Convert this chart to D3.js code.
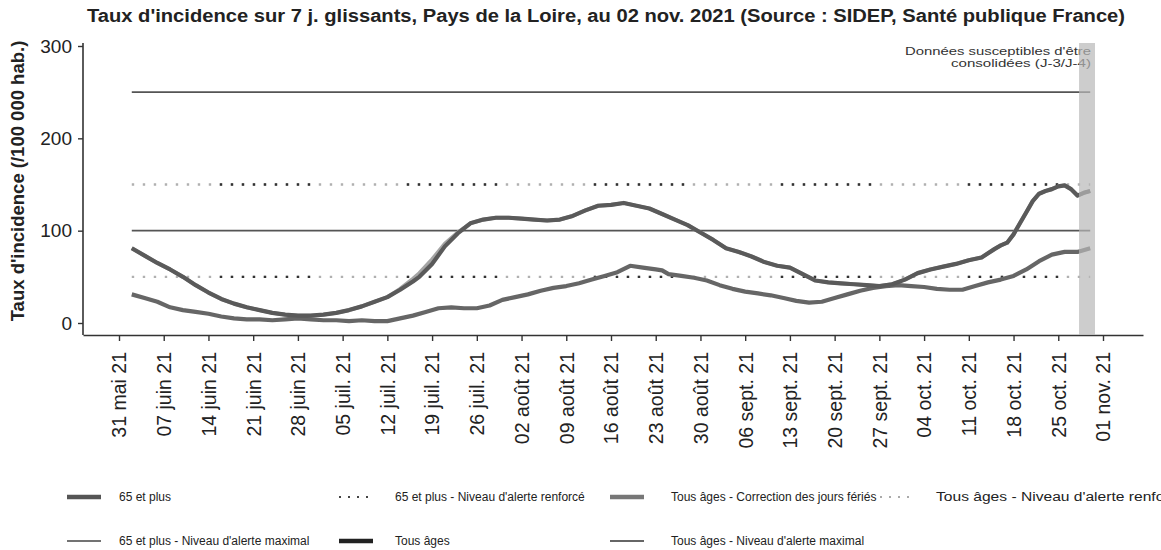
<!DOCTYPE html>
<html>
<head>
<meta charset="utf-8">
<script src="https://cdnjs.cloudflare.com/ajax/libs/d3/7.8.5/d3.min.js"></script>
<style>
body { margin: 0; background: #fff; }
svg { font-family: "Liberation Sans", Arial, sans-serif; }
</style>
</head>
<body>
<script>
// Tous âges (taux /100 000 hab.)
var datesTous = ["2021-06-02","2021-06-04","2021-06-06","2021-06-08","2021-06-10","2021-06-12","2021-06-14","2021-06-16","2021-06-18","2021-06-20",
  "2021-06-22","2021-06-24","2021-06-26","2021-06-28","2021-06-30","2021-07-02","2021-07-04","2021-07-06","2021-07-08","2021-07-10",
  "2021-07-12","2021-07-14","2021-07-16","2021-07-17","2021-07-19","2021-07-21","2021-07-23","2021-07-25","2021-07-27","2021-07-29",
  "2021-07-31","2021-08-02","2021-08-04","2021-08-06","2021-08-08","2021-08-10","2021-08-12","2021-08-14","2021-08-16","2021-08-18",
  "2021-08-20","2021-08-22","2021-08-24","2021-08-26","2021-08-28","2021-08-30","2021-09-01","2021-09-03","2021-09-05","2021-09-07",
  "2021-09-09","2021-09-11","2021-09-13","2021-09-15","2021-09-17","2021-09-19","2021-09-21","2021-09-23","2021-09-25","2021-09-27",
  "2021-09-29","2021-10-01","2021-10-03","2021-10-05","2021-10-07","2021-10-09","2021-10-11","2021-10-13","2021-10-15","2021-10-16",
  "2021-10-17","2021-10-18","2021-10-19","2021-10-20","2021-10-21","2021-10-22","2021-10-23","2021-10-24","2021-10-25","2021-10-26",
  "2021-10-27","2021-10-28","2021-10-29","2021-10-30"];
var tousAges = [81,73,65,58,50,41,33,26,21,17,
  14,11,9,8,8,9,11,14,18,23,
  28,36,45,50,64,83,97,108,112,114,
  114,113,112,111,112,116,122,127,128,130,
  127,124,118,112,106,98,90,81,77,72,
  66,62,60,53,46,44,43,42,41,40,
  42,47,54,58,61,64,68,71,80,84,
  87,96,108,120,132,140,143,145,148,149,
  145,138,141,143];
// Tous âges - correction des jours fériés (mêmes dates)
var correction = [81,73,65,58,50,41,33,26,21,17,
  14,11,9,8,8,9,11,14,18,23,
  28,37,48,54,69,86,98,108,112,114,
  114,113,112,111,112,116,122,127,128,130,
  127,124,118,112,106,98,90,81,77,72,
  66,62,60,53,46,44,43,42,41,40,
  42,47,54,58,61,64,68,71,80,84,
  87,96,108,120,132,140,143,145,148,149,
  145,138,141,143];
// 65 et plus
var dates65 = ["2021-06-02","2021-06-04","2021-06-06","2021-06-08","2021-06-10","2021-06-12","2021-06-14","2021-06-16","2021-06-18","2021-06-20",
  "2021-06-22","2021-06-24","2021-06-26","2021-06-28","2021-06-30","2021-07-02","2021-07-04","2021-07-06","2021-07-08","2021-07-10",
  "2021-07-12","2021-07-14","2021-07-16","2021-07-18","2021-07-20","2021-07-22","2021-07-24","2021-07-26","2021-07-28","2021-07-30",
  "2021-08-01","2021-08-03","2021-08-05","2021-08-07","2021-08-09","2021-08-11","2021-08-13","2021-08-15","2021-08-17","2021-08-19",
  "2021-08-21","2021-08-23","2021-08-24","2021-08-25","2021-08-27","2021-08-29","2021-08-31","2021-09-02","2021-09-04","2021-09-06",
  "2021-09-08","2021-09-10","2021-09-12","2021-09-14","2021-09-16","2021-09-18","2021-09-20","2021-09-22","2021-09-24","2021-09-26",
  "2021-09-28","2021-09-30","2021-10-02","2021-10-04","2021-10-06","2021-10-08","2021-10-10","2021-10-12","2021-10-14","2021-10-16",
  "2021-10-18","2021-10-20","2021-10-22","2021-10-24","2021-10-26","2021-10-28","2021-10-30"];
var plus65 = [31,27,23,17,14,12,10,7,5,4,
  4,3,4,5,4,3,3,2,3,2,
  2,5,8,12,16,17,16,16,19,25,
  28,31,35,38,40,43,47,51,55,62,
  60,58,57,53,51,49,46,41,37,34,
  32,30,27,24,22,23,27,31,35,38,
  40,41,40,39,37,36,36,40,44,47,
  51,58,67,74,77,77,81];

var tickDates = ["2021-05-31","2021-06-07","2021-06-14","2021-06-21","2021-06-28","2021-07-05","2021-07-12","2021-07-19",
  "2021-07-26","2021-08-02","2021-08-09","2021-08-16","2021-08-23","2021-08-30","2021-09-06","2021-09-13","2021-09-20",
  "2021-09-27","2021-10-04","2021-10-11","2021-10-18","2021-10-25","2021-11-01"];
var tickLabels = ["31 mai 21","07 juin 21","14 juin 21","21 juin 21","28 juin 21","05 juil. 21","12 juil. 21","19 juil. 21",
  "26 juil. 21","02 août 21","09 août 21","16 août 21","23 août 21","30 août 21","06 sept. 21","13 sept. 21","20 sept. 21",
  "27 sept. 21","04 oct. 21","11 oct. 21","18 oct. 21","25 oct. 21","01 nov. 21"];
var yTicks = [0, 100, 200, 300];

// niveaux d'alerte
var niveauxNoms = ["Tous âges - Niveau d'alerte maximal", "Tous âges - Niveau d'alerte renforcé",
  "65 et plus - Niveau d'alerte maximal", "65 et plus - Niveau d'alerte renforcé"];
var niveauxValeurs = [250, 150, 100, 50];

var bandeDebut = "2021-10-28", bandeFin = "2021-10-30";

var legendLabels = ["65 et plus", "65 et plus - Niveau d'alerte renforcé", "Tous âges - Correction des jours fériés",
  "Tous âges - Niveau d'alerte renforcé", "65 et plus - Niveau d'alerte maximal", "Tous âges", "Tous âges - Niveau d'alerte maximal"];

var w = 1161, h = 550;
var parse = d3.timeParse("%Y-%m-%d");

var svg = d3.select("body").append("svg")
  .attr("width", w)
  .attr("height", h);

// echelles
var xRef = d3.scaleTime().domain([parse("2021-05-31"), parse("2021-11-01")]).range([119, 1103]);
var x = d3.scaleTime().domain([xRef.invert(83), xRef.invert(1143)]).range([83, 1143]);
var y = d3.scaleLinear().domain([0, 300]).range([323, 46]);
var yBas = 335, yHaut = 43;

// titre
svg.append("text")
  .attr("x", 87).attr("y", 22)
  .attr("font-size", "18px").attr("font-weight", "bold").attr("fill", "#222")
  .attr("textLength", 1038).attr("lengthAdjust", "spacingAndGlyphs")
  .text("Taux d'incidence sur 7 j. glissants, Pays de la Loire, au 02 nov. 2021 (Source : SIDEP, Santé publique France)");

svg.append("text")
  .attr("transform", "translate(24,181) rotate(-90)")
  .attr("text-anchor", "middle")
  .attr("font-size", "18.5px").attr("font-weight", "bold").attr("fill", "#222")
  .text("Taux d'incidence (/100 000 hab.)");

// axes
var xAxis = d3.axisBottom(x)
  .tickValues(tickDates.map(parse))
  .tickFormat(function(d, i) { return tickLabels[i]; })
  .tickSize(6).tickSizeOuter(0);
var gx = svg.append("g").attr("transform", "translate(0," + yBas + ")").call(xAxis);
gx.select(".domain").attr("stroke", "#333").attr("stroke-width", 1.6);
gx.selectAll(".tick line").attr("stroke", "#333").attr("stroke-width", 1.4);
gx.selectAll(".tick text")
  .attr("transform", "rotate(-90)")
  .attr("text-anchor", "end")
  .attr("x", -17).attr("y", 0).attr("dy", "0.35em")
  .attr("font-size", "19.5px").attr("fill", "#222")
  .attr("font-family", "Liberation Sans, Arial, sans-serif");

var yAxis = d3.axisLeft(y).tickValues(yTicks).tickSize(5).tickSizeOuter(0);
var gy = svg.append("g").attr("transform", "translate(83,0)").call(yAxis);
gy.select(".domain").attr("d", "M0," + yHaut + "V" + yBas).attr("stroke", "#333").attr("stroke-width", 1.6);
gy.selectAll(".tick line").attr("stroke", "#333").attr("stroke-width", 1.4);
gy.selectAll(".tick text")
  .attr("x", -11)
  .attr("font-size", "19px").attr("fill", "#222")
  .attr("font-family", "Liberation Sans, Arial, sans-serif");

// niveaux d'alerte
var d0 = parse(datesTous[0]), d1 = parse(datesTous[datesTous.length - 1]);
niveauxValeurs.forEach(function(v, i) {
  var dotted = niveauxNoms[i].indexOf("renforcé") > 0;
  if (dotted) {
    svg.append("line")
      .attr("x1", x(d0)).attr("x2", x(d1)).attr("y1", y(v)).attr("y2", y(v))
      .attr("stroke", "#b0b0b0").attr("stroke-width", 2.4).attr("stroke-dasharray", "2.4,8.6");
    svg.append("line")
      .attr("x1", x(d0)).attr("x2", x(d1)).attr("y1", y(v)).attr("y2", y(v))
      .attr("stroke", "#333").attr("stroke-width", 2.4)
      .attr("stroke-dasharray", "0,88,2.4,8.6,2.4,8.6,2.4,8.6,2.4,8.6,2.4,8.6,2.4,8.6,2.4,8.6,2.4,8.6,2.4,8.6");
  } else {
    svg.append("line")
      .attr("x1", x(d0)).attr("x2", x(d1)).attr("y1", y(v)).attr("y2", y(v))
      .attr("stroke", "#555").attr("stroke-width", 1.6);
  }
});

// courbes
var line = d3.line()
  .x(function(d) { return x(d.date); })
  .y(function(d) { return y(d.v); });

var serieCorr = datesTous.map(function(d, i) { return { date: parse(d), v: correction[i] }; });
var serieTous = datesTous.map(function(d, i) { return { date: parse(d), v: tousAges[i] }; });
var serie65 = dates65.map(function(d, i) { return { date: parse(d), v: plus65[i] }; });

svg.append("path").datum(serieCorr).attr("d", line)
  .attr("fill", "none").attr("stroke", "#a5a5a5").attr("stroke-width", 3.8);
svg.append("path").datum(serie65).attr("d", line)
  .attr("fill", "none").attr("stroke", "#666").attr("stroke-width", 4.2).attr("stroke-linejoin", "round");
svg.append("path").datum(serieTous).attr("d", line)
  .attr("fill", "none").attr("stroke", "#5a5a5a").attr("stroke-width", 4.2).attr("stroke-linejoin", "round");

// bande donnees non consolidees
var bx0 = x(d3.timeHour.offset(parse(bandeDebut), 6));
var bx1 = x(d3.timeHour.offset(parse(bandeFin), 18));

svg.append("text")
  .attr("x", 1091).attr("y", 55)
  .attr("text-anchor", "end").attr("font-size", "11.5px").attr("fill", "#333")
  .attr("textLength", 186).attr("lengthAdjust", "spacingAndGlyphs")
  .text("Données susceptibles d'être");
svg.append("text")
  .attr("x", 1091).attr("y", 67)
  .attr("text-anchor", "end").attr("font-size", "11.5px").attr("fill", "#333")
  .attr("textLength", 140).attr("lengthAdjust", "spacingAndGlyphs")
  .text("consolidées (J-3/J-4)");

svg.append("rect")
  .attr("x", bx0).attr("y", yHaut)
  .attr("width", bx1 - bx0).attr("height", yBas - yHaut)
  .attr("fill", "#b8b8b8").attr("opacity", 0.7);

// legende
var legCols = [67, 339, 610, 880];
var legText = [119, 395, 671, 936];
var legRows = [497, 541];
var legStyles = [
  { stroke: "#555", width: 4.5, dash: null },
  { stroke: "#444", width: 2, dash: "2,7" },
  { stroke: "#777", width: 4.5, dash: null },
  { stroke: "#aaa", width: 2, dash: "2,7" },
  { stroke: "#444", width: 1.6, dash: null },
  { stroke: "#222", width: 4.5, dash: null },
  { stroke: "#666", width: 2, dash: null }
];
var leg = svg.append("g");
legendLabels.forEach(function(lab, i) {
  var c = i % 4, cy = legRows[Math.floor(i / 4)];
  var s = legStyles[i];
  leg.append("line")
    .attr("x1", legCols[c]).attr("x2", legCols[c] + 34).attr("y1", cy).attr("y2", cy)
    .attr("stroke", s.stroke).attr("stroke-width", s.width)
    .attr("stroke-dasharray", s.dash);
  var t = leg.append("text")
    .attr("x", legText[c]).attr("y", cy).attr("dy", "0.35em")
    .attr("font-size", "12px").attr("fill", "#222")
    .text(lab);
  // derniere colonne coupee au bord comme dans l'original
  if (c === 3) t.attr("textLength", 250).attr("lengthAdjust", "spacingAndGlyphs");
});
</script>
</body>
</html>
